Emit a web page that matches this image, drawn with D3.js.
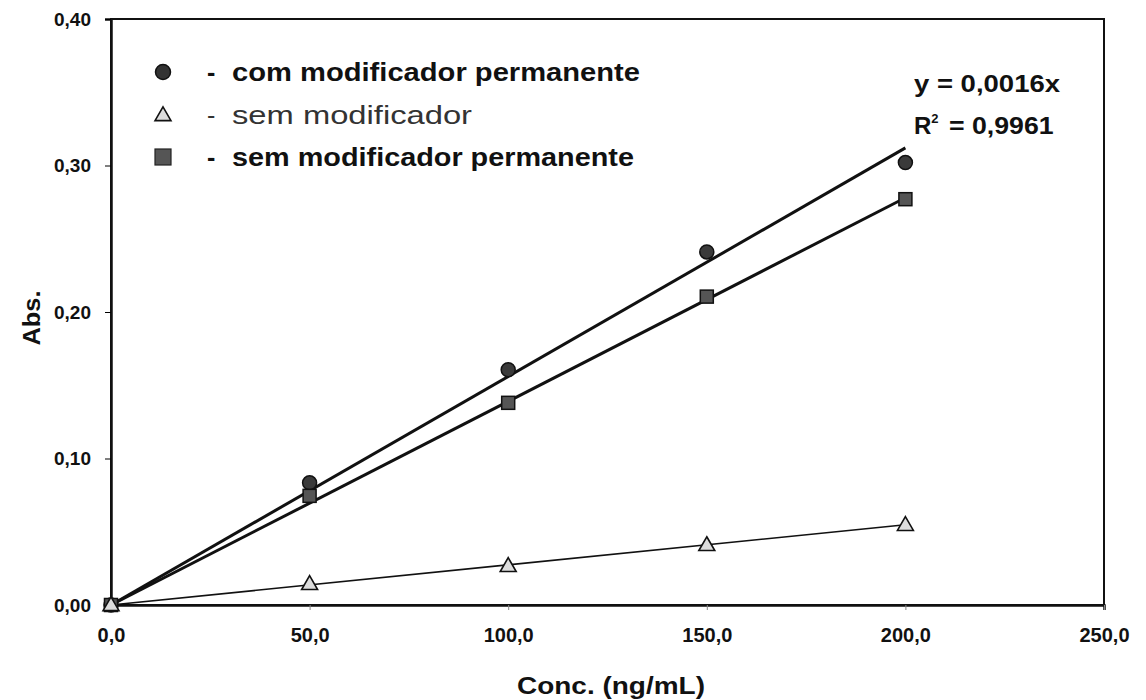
<!DOCTYPE html>
<html><head><meta charset="utf-8">
<script src="https://cdn.jsdelivr.net/npm/d3@7"></script>
<style>
body{margin:0;background:#fff;}
</style></head>
<body><svg id="c" width="1146" height="700"></svg>
<script>
const concentrations = [0, 50, 100, 150, 200];
const comModPerm = [0, 0.0834, 0.1606, 0.241, 0.302];
const semMod = [0, 0.0144, 0.0267, 0.041, 0.0547];
const semModPerm = [0, 0.0745, 0.138, 0.2105, 0.277];
const fitSlopes = {com: 0.00156, semPerm: 0.00139, sem: 0.000274};
const xTicks = [0, 50, 100, 150, 200, 250];
const yTicks = [0, 0.1, 0.2, 0.3, 0.4];
const legendLabels = ["com modificador permanente", "sem modificador", "sem modificador permanente"];
const equationLines = ["y = 0,0016x", "R² = 0,9961"];

const svg = d3.select("#c");
const L = 111, R = 1104, T = 19, B = 605;
const x = d3.scaleLinear().domain([0, 250]).range([L, R]);
const y = d3.scaleLinear().domain([0, 0.4]).range([B, T]);
const fmtX = d => d.toFixed(1).replace(".", ",");
const fmtY = d => d.toFixed(2).replace(".", ",");
const ARIAL = "'Liberation Sans', Arial, sans-serif";

// frame
svg.append("rect").attr("x", L).attr("y", T).attr("width", R - L).attr("height", B - T)
  .attr("fill", "none").attr("stroke", "#111").attr("stroke-width", 2);

// axes
const ya = svg.append("g").attr("transform", `translate(${L},0)`)
  .call(d3.axisLeft(y).tickValues(yTicks).tickFormat(fmtY).tickSize(6).tickPadding(14));
ya.select(".domain").attr("stroke", "#111").attr("stroke-width", 2.5);
ya.selectAll("text").style("font-family", ARIAL).attr("font-size", 19).attr("font-weight", "bold").attr("fill", "#111");
const xa = svg.append("g").attr("transform", `translate(0,${B})`)
  .call(d3.axisBottom(x).tickValues(xTicks).tickFormat(fmtX).tickSize(5).tickPadding(18));
xa.select(".domain").attr("stroke", "#111").attr("stroke-width", 2.5);
xa.selectAll("line").attr("stroke", "#888");
xa.selectAll("text").style("font-family", ARIAL).attr("font-size", 20).attr("font-weight", "bold").attr("fill", "#111");

// axis titles
svg.append("text").attr("x", 611).attr("y", 694).attr("text-anchor", "middle")
  .style("font-family", ARIAL).attr("font-size", 24).attr("font-weight", "bold").attr("fill", "#111")
  .attr("textLength", 188).attr("lengthAdjust", "spacingAndGlyphs").text("Conc. (ng/mL)");
svg.append("text").attr("transform", "translate(40,318) rotate(-90)").attr("text-anchor", "middle")
  .style("font-family", ARIAL).attr("font-size", 24).attr("font-weight", "bold").attr("fill", "#111")
  .attr("textLength", 55).attr("lengthAdjust", "spacingAndGlyphs").text("Abs.");

// trend lines
const fit = (slope, w) => svg.append("line")
  .attr("x1", x(0)).attr("y1", y(0)).attr("x2", x(200)).attr("y2", y(slope * 200))
  .attr("stroke", "#111").attr("stroke-width", w);
fit(fitSlopes.com, 3);
fit(fitSlopes.semPerm, 3);
fit(fitSlopes.sem, 1.6);

// markers
const pts = arr => concentrations.map((c, i) => [c, arr[i]]);
svg.selectAll(".cir").data(pts(comModPerm)).enter().append("circle")
  .attr("cx", d => x(d[0])).attr("cy", d => y(d[1])).attr("r", 7)
  .attr("fill", "#3a3a3a").attr("stroke", "#111").attr("stroke-width", 1.5);
svg.selectAll(".sq").data(pts(semModPerm)).enter().append("rect")
  .attr("x", d => x(d[0]) - 6.5).attr("y", d => y(d[1]) - 6.5).attr("width", 13).attr("height", 13)
  .attr("fill", "#555").attr("stroke", "#111").attr("stroke-width", 1.5);
const tri = d3.symbol().type(d3.symbolTriangle).size(110);
svg.selectAll(".tri").data(pts(semMod)).enter().append("path")
  .attr("d", tri).attr("transform", d => `translate(${x(d[0])},${y(d[1]) + 1})`)
  .attr("fill", "#ddd").attr("stroke", "#111").attr("stroke-width", 1.6);

// legend
const lgY = [72, 115, 157];
const lgW = [408, 240, 402];
svg.append("circle").attr("cx", 163).attr("cy", lgY[0]).attr("r", 7.5)
  .attr("fill", "#333").attr("stroke", "#111").attr("stroke-width", 1.5);
svg.append("path").attr("d", tri).attr("transform", `translate(163,${lgY[1] + 1})`)
  .attr("fill", "#ddd").attr("stroke", "#111").attr("stroke-width", 1.6);
svg.append("rect").attr("x", 155).attr("y", lgY[2] - 8).attr("width", 16).attr("height", 16)
  .attr("fill", "#555").attr("stroke", "#222").attr("stroke-width", 1.2);
legendLabels.forEach((t, i) => {
  const bold = i !== 1;
  svg.append("text").attr("x", 207).attr("y", lgY[i] + 9).attr("font-size", 25)
    .style("font-family", ARIAL)
    .attr("font-weight", bold ? "bold" : "normal").attr("fill", bold ? "#111" : "#333").text("-");
  svg.append("text").attr("x", 232).attr("y", lgY[i] + 9).attr("font-size", 25)
    .style("font-family", ARIAL)
    .attr("textLength", lgW[i]).attr("lengthAdjust", "spacingAndGlyphs")
    .attr("font-weight", bold ? "bold" : "normal").attr("fill", bold ? "#111" : "#333").text(t);
});

// equation
svg.append("text").attr("x", 914).attr("y", 92).attr("font-size", 24).style("font-family", ARIAL)
  .attr("textLength", 146).attr("lengthAdjust", "spacingAndGlyphs")
  .attr("font-weight", "bold").attr("fill", "#111").text(equationLines[0]);
const eq2 = svg.append("text").attr("x", 914).attr("y", 134).attr("font-size", 24).style("font-family", ARIAL)
  .attr("font-weight", "bold").attr("fill", "#111");
eq2.append("tspan").text("R");
eq2.append("tspan").attr("dy", -11).attr("font-size", 13).text("2");
eq2.append("tspan").attr("dy", 11).attr("dx", 3)
  .attr("textLength", 112).attr("lengthAdjust", "spacingAndGlyphs").text(equationLines[1].slice(2));
</script></body></html>
